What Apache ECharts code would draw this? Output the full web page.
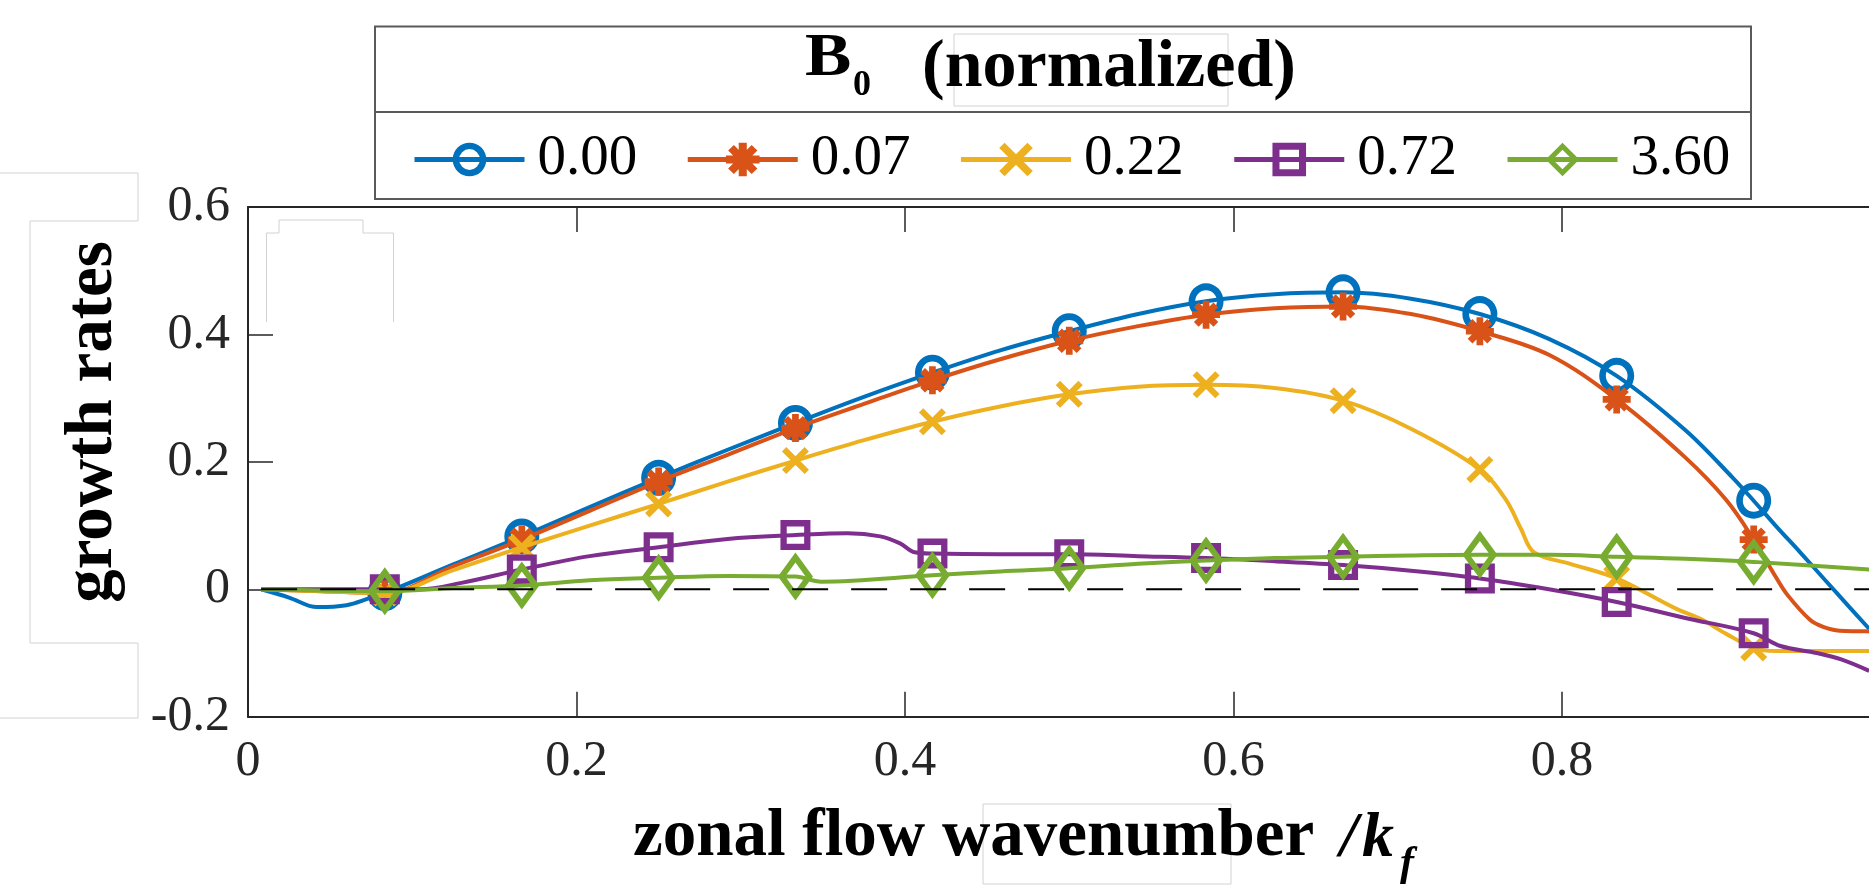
<!DOCTYPE html>
<html><head><meta charset="utf-8">
<script src="https://cdn.jsdelivr.net/npm/echarts@6/dist/echarts.min.js"></script>
<style>html,body{margin:0;padding:0;background:#fff}#c{width:1869px;height:890px}</style>
</head><body><div id="c"></div>
<script>
// ---------------- data ----------------
const seriesNames = ['0.00', '0.07', '0.22', '0.72', '3.60'];
const seriesColors = ['#0072BD', '#D95319', '#EDB120', '#7E2F8E', '#77AC30'];
const markerX = [0.0833, 0.1667, 0.25, 0.3333, 0.4167, 0.5, 0.5833, 0.6667, 0.75, 0.8333, 0.9167];

const markers000 = [-0.006, 0.083, 0.175, 0.261, 0.340, 0.405, 0.452, 0.466, 0.432, 0.335, 0.139];
const markers007 = [-0.006, 0.078, 0.169, 0.253, 0.328, 0.390, 0.431, 0.444, 0.405, 0.298, 0.078];
const markers022 = [-0.006, 0.066, 0.134, 0.202, 0.263, 0.306, 0.321, 0.296, 0.188, 0.017, -0.092];
const markers072 = [0.000, 0.031, 0.066, 0.085, 0.056, 0.055, 0.049, 0.038, 0.017, -0.020, -0.069];
const markers360 = [-0.003, 0.006, 0.018, 0.020, 0.022, 0.033, 0.045, 0.051, 0.054, 0.051, 0.043];

const curve000 = [[0.008,0.000],[0.025,-0.013],[0.042,-0.028],[0.060,-0.025],[0.074,-0.014],[0.125,0.039],[0.208,0.129],[0.292,0.219],[0.375,0.302],[0.458,0.375],[0.542,0.432],[0.625,0.463],[0.708,0.456],[0.792,0.393],[0.875,0.250],[0.904,0.175],[0.930,0.100],[0.945,0.058],[0.960,0.015],[0.975,-0.028],[0.987,-0.062]];
const curve007 = [[0.008,0.000],[0.045,-0.003],[0.125,0.036],[0.208,0.123],[0.292,0.211],[0.375,0.291],[0.458,0.361],[0.542,0.413],[0.625,0.441],[0.708,0.432],[0.792,0.368],[0.875,0.207],[0.900,0.140],[0.930,0.020],[0.937,-0.008],[0.951,-0.048],[0.959,-0.059],[0.969,-0.065],[0.987,-0.066]];
const curve022 = [[0.008,0.000],[0.045,-0.003],[0.125,0.030],[0.208,0.100],[0.292,0.169],[0.375,0.234],[0.458,0.287],[0.542,0.318],[0.625,0.316],[0.708,0.252],[0.766,0.140],[0.775,0.095],[0.783,0.058],[0.805,0.040],[0.869,-0.030],[0.884,-0.046],[0.900,-0.070],[0.930,-0.097],[0.987,-0.097]];
const curve072 = [[0.008,0.000],[0.105,0.000],[0.130,0.010],[0.208,0.052],[0.292,0.079],[0.365,0.088],[0.385,0.083],[0.397,0.072],[0.406,0.058],[0.458,0.055],[0.542,0.052],[0.625,0.044],[0.708,0.029],[0.792,0.000],[0.875,-0.045],[0.933,-0.089],[0.955,-0.100],[0.970,-0.110],[0.987,-0.128]];
const curve360 = [[0.008,0.000],[0.125,0.002],[0.208,0.014],[0.292,0.021],[0.349,0.012],[0.458,0.028],[0.542,0.040],[0.625,0.049],[0.708,0.053],[0.792,0.054],[0.875,0.048],[0.987,0.031]];

const zeroLine = [[0.008, 0], [1, 0]];
const xTickLabels = ['0', '0.2', '0.4', '0.6', '0.8', '1'];
const yTickLabels = ['-0.2', '0', '0.2', '0.4', '0.6'];

// ---------------- symbols ----------------
const RING = 'path://M0,50 A50,50 0 1,1 100,50 A50,50 0 1,1 0,50 Z M19,50 A31,31 0 1,0 81,50 A31,31 0 1,0 19,50 Z';
const ASTER = 'path://M38,0 L62,0 L62,100 L38,100 Z M0,38 L100,38 L100,62 L0,62 Z M23.5,6.5 L93.5,76.5 L76.5,93.5 L6.5,23.5 Z M93.5,23.5 L23.5,93.5 L6.5,76.5 L76.5,6.5 Z';
const XMARK = 'path://M16,0 L100,84 L84,100 L0,16 Z M84,0 L100,16 L16,100 L0,84 Z';
const SQUARE = 'path://M0,0 L100,0 L100,100 L0,100 Z M21,21 L21,79 L79,79 L79,21 Z';
const DIAMOND = 'path://M50,0 L100,50 L50,100 L0,50 Z M50,21 L21,50 L50,79 L79,50 Z';

const symbols = [RING, ASTER, XMARK, SQUARE, DIAMOND];
const symbolSizes = [[35,36],[28,28],[27,27],[30,30],[35,48]];
const allMarkers = [markers000, markers007, markers022, markers072, markers360];
const allCurves = [curve000, curve007, curve022, curve072, curve360];

function buildData(markerVals, curvePts) {
  const pts = curvePts.map(p => ({ value: [p[0], p[1]], symbol: 'none' }));
  markerX.forEach((x, i) => pts.push({ value: [x, markerVals[i]] }));
  pts.sort((a, b) => a.value[0] - b.value[0]);
  return pts;
}

const series = seriesNames.map((name, i) => ({
  name: name,
  type: 'line',
  xAxisIndex: 0, yAxisIndex: 0,
  data: buildData(allMarkers[i], allCurves[i]),
  smooth: 0.35,
  symbol: symbols[i],
  symbolSize: symbolSizes[i],
  showSymbol: true,
  showAllSymbol: true,
  color: seriesColors[i],
  itemStyle: { color: seriesColors[i], borderWidth: 0 },
  lineStyle: { color: seriesColors[i], width: 4 },
  emphasis: { disabled: true },
  animation: false,
  z: 2 + i * 0.01
}));
series.push({
  name: 'zero', type: 'line', data: zeroLine, symbol: 'none',
  lineStyle: { color: '#000', width: 2, type: [36, 23] },
  emphasis: { disabled: true }, animation: false, z: 5
});

const axisColor = '#262626';
const tickFont = { fontFamily: '"Liberation Serif", serif', fontSize: 50, color: axisColor };
const faint = { stroke: '#d2d2d2', lineWidth: 1, fill: 'none' };

const chart = echarts.init(document.getElementById('c'), null, { renderer: 'canvas' });
chart.setOption({
  backgroundColor: '#ffffff',
  animation: false,
  grid: { left: 248, top: 207, right: -21.5, bottom: 173.3, containLabel: false, outerBoundsMode: 'none' },
  xAxis: [{
    type: 'value', min: 0, max: 1, interval: 0.2, position: 'bottom',
    axisLine: { show: true, onZero: false, lineStyle: { color: axisColor, width: 2 } },
    axisTick: { show: true, inside: true, length: 25, lineStyle: { color: axisColor, width: 1.5 } },
    axisLabel: Object.assign({ margin: 20, formatter: v => xTickLabels[Math.round(v / 0.2)] }, tickFont),
    splitLine: { show: false }
  }, {
    type: 'value', min: 0, max: 1, interval: 0.2, position: 'top',
    axisLine: { show: true, onZero: false, lineStyle: { color: axisColor, width: 2 } },
    axisTick: { show: true, inside: true, length: 25, lineStyle: { color: axisColor, width: 1.5 } },
    axisLabel: { show: false }, splitLine: { show: false }
  }],
  yAxis: {
    type: 'value', min: -0.2, max: 0.6, interval: 0.2,
    axisLine: { show: true, onZero: false, lineStyle: { color: axisColor, width: 2 } },
    axisTick: { show: true, inside: true, length: 25, lineStyle: { color: axisColor, width: 1.5 } },
    axisLabel: Object.assign({ margin: 18, formatter: v => yTickLabels[Math.round((v + 0.2) / 0.2)] }, tickFont),
    splitLine: { show: false }
  },
  legend: {
    data: seriesNames,
    left: 412, top: 131, padding: 0,
    orient: 'horizontal',
    itemWidth: 110, itemHeight: 42, itemGap: 48,
    selectedMode: false,
    lineStyle: { width: 5 },
    textStyle: { fontFamily: '"Liberation Serif", serif', fontSize: 57, color: '#000', lineHeight: 42, padding: [0, 0, 0, 8] }
  },
  graphic: [
    { type: 'rect', silent: true, z: 50, shape: { x: 375, y: 26.5, width: 1376, height: 172.5 }, style: { fill: 'none', stroke: '#5a5a5a', lineWidth: 2 } },
    { type: 'line', silent: true, z: 50, shape: { x1: 375, y1: 112, x2: 1751, y2: 112 }, style: { stroke: '#5a5a5a', lineWidth: 2 } },
    { type: 'text', silent: true, z: 60, x: 805, y: 59, scaleX: 1.12, style: { text: 'B', font: 'bold 62px "Liberation Serif"', fill: '#000', align: 'left', textAlign: 'left', verticalAlign: 'middle', textVerticalAlign: 'middle' } },
    { type: 'text', silent: true, z: 60, x: 853, y: 86, style: { text: '0', font: 'bold 36px "Liberation Serif"', fill: '#000', align: 'left', textAlign: 'left', verticalAlign: 'middle', textVerticalAlign: 'middle' } },
    { type: 'text', silent: true, z: 60, x: 922, y: 68.5, style: { text: '(normalized)', font: 'bold 68px "Liberation Serif"', fill: '#000', align: 'left', textAlign: 'left', verticalAlign: 'middle', textVerticalAlign: 'middle' } },
    { type: 'text', silent: true, z: 60, x: 633, y: 838, style: { text: 'zonal flow wavenumber', font: 'bold 67px "Liberation Serif"', fill: '#000', align: 'left', textAlign: 'left', verticalAlign: 'middle', textVerticalAlign: 'middle' } },
    { type: 'text', silent: true, z: 60, x: 1340, y: 839, style: { text: '/', font: 'bold italic 64px "Liberation Serif"', fill: '#000', align: 'left', textAlign: 'left', verticalAlign: 'middle', textVerticalAlign: 'middle' } },
    { type: 'text', silent: true, z: 60, x: 1362, y: 839, style: { text: 'k', font: 'bold italic 64px "Liberation Serif"', fill: '#000', align: 'left', textAlign: 'left', verticalAlign: 'middle', textVerticalAlign: 'middle' } },
    { type: 'text', silent: true, z: 60, x: 1400, y: 864, style: { text: 'f', font: 'bold italic 42px "Liberation Serif"', fill: '#000', align: 'left', textAlign: 'left', verticalAlign: 'middle', textVerticalAlign: 'middle' } },
    { type: 'text', silent: true, z: 60, x: 94, y: 422, rotation: Math.PI / 2, style: { text: 'growth rates', font: 'bold 67px "Liberation Serif"', fill: '#000', align: 'center', textAlign: 'center', verticalAlign: 'middle', textVerticalAlign: 'middle' } },
    { type: 'polyline', silent: true, z: 40, shape: { points: [[0,173],[138,173],[138,221],[30,221],[30,643],[138,643],[138,718],[0,718]] }, style: faint },
    { type: 'polyline', silent: true, z: 40, shape: { points: [[266.5,322],[266.5,233],[279,233],[279,220],[363,220],[363,233],[393.5,233],[393.5,322]] }, style: faint },
    { type: 'rect', silent: true, z: 40, shape: { x: 954, y: 34, width: 274, height: 72 }, style: faint },
    { type: 'rect', silent: true, z: 40, shape: { x: 983, y: 804, width: 248, height: 80 }, style: faint }
  ],
  series: series
});
</script>
</body></html>
